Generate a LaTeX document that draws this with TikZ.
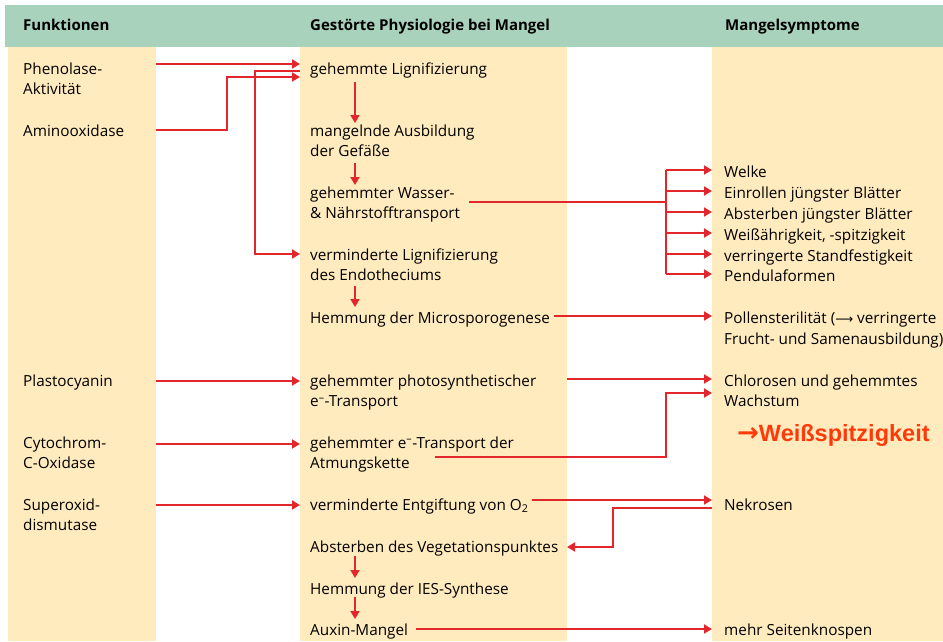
\documentclass[tikz,border=0pt]{standalone}
\usepackage{fontspec}
\setmainfont{Open Sans}
\newfontfamily\notefont{Liberation Sans}
\newfontfamily\symfont{DejaVu Sans}
\usetikzlibrary{arrows.meta}
\definecolor{headgreen}{HTML}{A8D2BC}
\definecolor{colbeige}{HTML}{FFEBBE}
\definecolor{arrowred}{HTML}{E2262B}
\definecolor{notered}{HTML}{FF3A0A}

\begin{document}
\begin{tikzpicture}[x=1pt, y=-1pt,
  col/.style={fill=colbeige, inner sep=0pt, outer sep=0pt, minimum width=#1,
              minimum height=594pt, anchor=north west},
  head/.style={anchor=base west, inner sep=0pt, font=\bfseries\fontsize{15}{18}\selectfont},
  txt/.style={anchor=base west, inner sep=0pt, align=left,
              font=\fontsize{15.3}{20.78}\selectfont},
  link/.style={draw=arrowred, line width=1.8pt},
  arr/.style={link, -{Triangle[length=8pt, width=9pt]}},
]
\useasboundingbox (0,0) rectangle (943,641);

% header and columns
\fill[headgreen] (5,5) rectangle (943,47);
\node[col=148] (c1) at (8,47) {};
\node[col=267] (c2) at (300,47) {};
\node[col=231] (c3) at (712,47) {};

\node[head] (h1) at (23,30) {Funktionen};
\node[head] (h2) at (310,30) {Gestörte Physiologie bei Mangel};
\node[head] (h3) at (725,30) {Mangelsymptome};

% Funktionen (two-line nodes sit on their last baseline)
\node[txt] (f1) at (23,94.8) {Phenolase-\\Aktivität};
\node[txt] (f2) at (23,136) {Aminooxidase};
\node[txt] (f3) at (23,386) {Plastocyanin};
\node[txt] (f4) at (23,468.8) {Cytochrom-\\C-Oxidase};
\node[txt] (f5) at (23,530.8) {Superoxid-\\dismutase};

% Physiologie
\node[txt] (p1) at (310,74) {gehemmte Lignifizierung};
\node[txt] (p2) at (310,156.8) {mangelnde Ausbildung\\der Gefäße};
\node[txt] (p3) at (310,218.8) {gehemmter Wasser-\\\& Nährstofftransport};
\node[txt] (p4) at (310,280.8) {verminderte Lignifizierung\\des Endotheciums};
\node[txt] (p5) at (310,323) {Hemmung der Microsporogenese};
\node[txt] (p6) at (310,406.8) {gehemmter photosynthetischer\\e\textsuperscript{–}-Transport};
\node[txt] (p7) at (310,468.8) {gehemmter e\textsuperscript{–}-Transport der\\Atmungskette};
\node[txt] (p8) at (310,510) {verminderte Entgiftung von O\textsubscript{2}};
\node[txt] (p9) at (310,552) {Absterben des Vegetationspunktes};
\node[txt] (p10) at (310,594) {Hemmung der IES-Synthese};
\node[txt] (p11) at (310,635) {Auxin-Mangel};

% Symptome
\node[txt] (s1) at (724,177) {Welke};
\node[txt] (s2) at (724,198) {Einrollen jüngster Blätter};
\node[txt] (s3) at (724,219) {Absterben jüngster Blätter};
\node[txt] (s4) at (724,240) {Weißährigkeit, -spitzigkeit};
\node[txt] (s5) at (724,261) {verringerte Standfestigkeit};
\node[txt] (s6) at (724,281) {Pendulaformen};
\node[txt] (s7) at (724,344.4) {Pollensterilität ({\symfont\fontsize{12.5}{12.5}\selectfont ⟶} verringerte\\Frucht- und Samenausbildung)};
\node[txt] (s8) at (724,406.8) {Chlorosen und gehemmtes\\Wachstum};
\node[anchor=base west, inner sep=0pt, text=notered,
      font=\notefont\bfseries\fontsize{23.5}{26}\selectfont] (note) at (737,441)
  {{\symfont\fontsize{26}{26}\selectfont →}Weißspitzigkeit};
\node[txt] (s9) at (724,510) {Nekrosen};
\node[txt] (s10) at (724,635) {mehr Seitenknospen};

% Funktionen -> Physiologie
\draw[arr] ([yshift=30.8pt]f1.base -| c1.east) -- ([yshift=10pt]p1.base -| c2.west);
\draw[arr] ([yshift=6pt]f2.base -| c1.east) -- ++(71,0) |- ([yshift=-3pt]p1.base -| c2.west);
\draw[arr] ([yshift=3pt]p1.base -| c2.west) -- ++(-45,0) |- ([yshift=26.8pt]p4.base -| c2.west);
\draw[arr] ([yshift=5pt]f3.base -| c1.east) -- ([yshift=25.8pt]p6.base -| c2.west);
\draw[arr] ([yshift=24.8pt]f4.base -| c1.east) -- ([yshift=24.8pt]p7.base -| c2.west);
\draw[arr] ([yshift=25.8pt]f5.base -| c1.east) -- ([yshift=5pt]p8.base -| c2.west);

% Physiologie, untereinander
\draw[arr] ([xshift=45pt,yshift=-8pt]p1.base west) -- ([xshift=45pt,yshift=33.8pt]p2.base west);
\draw[arr] ([xshift=45pt,yshift=-6pt]p2.base west) -- ([xshift=45pt,yshift=33.8pt]p3.base west);
\draw[arr] ([xshift=45pt,yshift=-5pt]p4.base west) -- ([xshift=45pt,yshift=16pt]p5.base west);
\draw[arr] ([xshift=45pt,yshift=-4pt]p9.base west) -- ([xshift=45pt,yshift=16pt]p10.base west);
\draw[arr] ([xshift=45pt,yshift=-3pt]p10.base west) -- ([xshift=45pt,yshift=16pt]p11.base west);

% Physiologie -> Symptome
\coordinate (bus) at (666,202);
\draw[link] ([xshift=9pt,yshift=16.8pt]p3.base -| p3.east) -- (bus);
\draw[link] ([yshift=7pt]s1.base -| bus) -- ([yshift=7pt]s6.base -| bus);
\foreach \s in {s1,s2,s3,s4,s5,s6}
  \draw[arr] ([yshift=7pt]\s.base -| bus) -- ([yshift=7pt]\s.base -| c3.west);
\draw[arr] ([xshift=4pt,yshift=7pt]p5.base -| p5.east) -- ([yshift=28.4pt]s7.base -| c3.west);
\draw[arr] ([yshift=27.8pt]p6.base -| c2.east) -- ([yshift=27.8pt]s8.base -| c3.west);
\draw[arr] ([xshift=125pt,yshift=11.8pt]p7.base west) -- ([yshift=11.8pt]p7.base -| bus)
  |- ([yshift=13.8pt]s8.base -| c3.west);
\draw[arr] ([xshift=3pt,yshift=10pt]p8.base -| p8.east) -- ([yshift=10pt]s9.base -| c3.west);
\draw[arr] ([yshift=2pt]s9.base -| c3.west) -- ++(-99,0) |- ([yshift=5pt]p9.base -| c2.east);
\draw[arr] ([xshift=8pt,yshift=6pt]p11.base -| p11.east) -- ([yshift=6pt]s10.base -| c3.west);

\end{tikzpicture}
\end{document}
